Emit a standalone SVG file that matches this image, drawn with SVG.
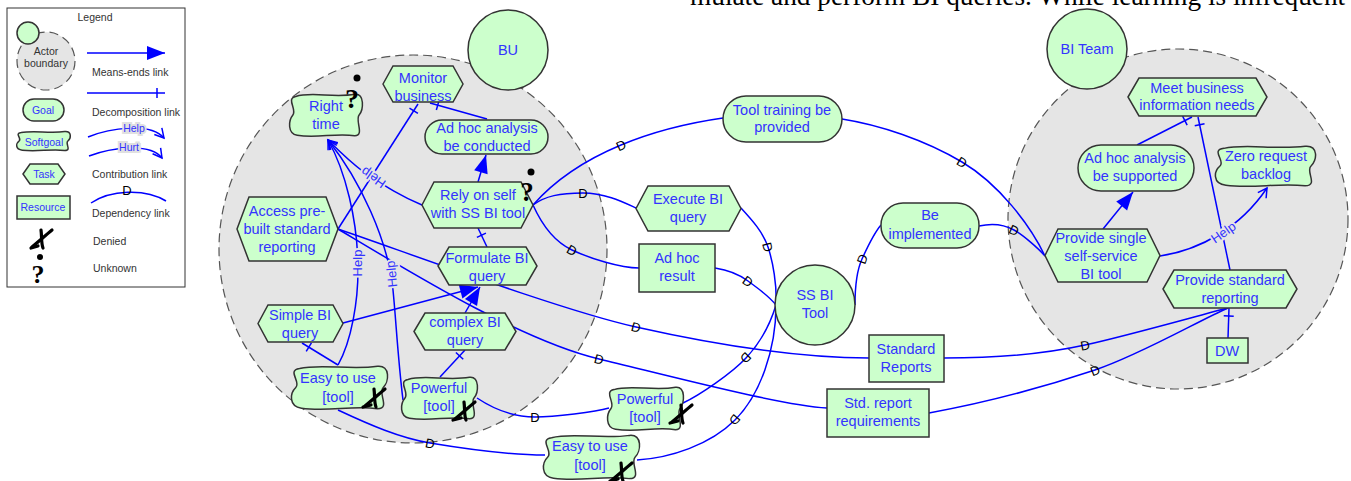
<svg xmlns="http://www.w3.org/2000/svg" xmlns:xlink="http://www.w3.org/1999/xlink" width="1351" height="481" viewBox="0 0 1351 481">
<style>
.n{fill:#ccffcc;stroke:#333;stroke-width:1.5}
.t{font-family:"Liberation Sans",Arial,sans-serif;font-size:14.5px;fill:#3333ff;text-anchor:middle}
.lt{font-family:"Liberation Sans",Arial,sans-serif;font-size:10.5px;fill:#333;}
.ltb{font-family:"Liberation Sans",Arial,sans-serif;font-size:10.5px;fill:#3333ff;text-anchor:middle}
.lk{fill:none;stroke:#0000ff;stroke-width:1.5}
.bd{fill:#e5e5e5;stroke:#555;stroke-width:1.2;stroke-dasharray:9 5}
.d{font-family:"Liberation Sans",Arial,sans-serif;font-size:13px;fill:#000;text-anchor:middle}
.hl{font-family:"Liberation Sans",Arial,sans-serif;font-size:13px;fill:#3333ff;text-anchor:middle;paint-order:stroke;stroke:#e5e5e5;stroke-width:4px}
.dn{fill:none;stroke:#000;stroke-width:3.2;stroke-linecap:round}
.q{font-family:"Liberation Serif","Times New Roman",serif;font-weight:bold;fill:#000;text-anchor:middle}
</style>
<defs>
<path id="sgp" d="M8,8 C30,-4 60,12 90,3 C104,0 102,38 96,50 C90,62 104,97 90,97 C62,90 38,104 10,96 C-4,92 -2,62 4,50 C10,38 -6,12 8,8 Z" vector-effect="non-scaling-stroke"/>
<marker id="me" markerUnits="userSpaceOnUse" markerWidth="20" markerHeight="16" refX="18" refY="7" orient="auto" overflow="visible"><path d="M0,0 L18,7 L0,14 Z" fill="#0000ff"/></marker>
<marker id="dc" markerUnits="userSpaceOnUse" markerWidth="20" markerHeight="20" refX="10" refY="10" orient="auto" overflow="visible"><path d="M2,5 L2,15" stroke="#0000ff" stroke-width="1.5"/></marker>
<marker id="hp" markerUnits="userSpaceOnUse" markerWidth="12" markerHeight="12" refX="10" refY="6" orient="auto" overflow="visible"><path d="M1,1 L10,6 L1,11" fill="none" stroke="#0000ff" stroke-width="1.5"/></marker>
</defs>
<rect width="1351" height="481" fill="#fff"/>
<text x="690" y="5" font-family="Liberation Serif,Times New Roman,serif" font-size="27.3" fill="#000">mulate and perform BI queries. While learning is infrequent</text>

<g id="legend">
<rect x="7" y="8" width="178" height="279" fill="#fff" stroke="#333" stroke-width="1"/>
<text class="lt" x="95" y="21" text-anchor="middle">Legend</text>
<circle class="bd" cx="46" cy="61" r="29"/>
<circle class="n" cx="28" cy="33" r="11"/>
<text class="lt" x="46" y="55" text-anchor="middle" font-size="10">Actor</text>
<text class="lt" x="46" y="67" text-anchor="middle" font-size="10">boundary</text>
<path class="lk" d="M87,53 L165,53" marker-end="url(#me)"/>
<text class="lt" x="92" y="76">Means-ends link</text>
<path class="lk" d="M87,93 L165,93" marker-end="url(#dc)"/>
<text class="lt" x="92" y="116">Decomposition link</text>
<rect class="n" x="23" y="99" width="41" height="22" rx="11"/>
<text class="ltb" x="43" y="114">Goal</text>
<use href="#sgp" class="n" transform="translate(17,131) scale(0.53,0.2)"/>
<text class="ltb" x="44" y="146">Softgoal</text>
<path class="lk" d="M88,137 C110,128 150,122 164,138" marker-end="url(#hp)"/>
<text class="ltb" x="134" y="132" font-size="9.5" style="paint-order:stroke;stroke:#e0e0e0;stroke-width:4px">Help</text>
<path class="lk" d="M89,156 C110,148 150,142 162,158" marker-end="url(#hp)"/>
<text class="ltb" x="129" y="151" font-size="9.5" style="paint-order:stroke;stroke:#e0e0e0;stroke-width:4px">Hurt</text>
<polygon class="n" points="23,174 30,164 58,164 65,174 58,184 30,184"/>
<text class="ltb" x="44" y="178">Task</text>
<text class="lt" x="92" y="178">Contribution link</text>
<rect class="n" x="17" y="196" width="53" height="23"/>
<text class="ltb" x="43" y="211">Resource</text>
<path class="lk" d="M91,203 C110,190 145,188 166,201"/>
<text class="d" x="127" y="195" font-size="10">D</text>
<text class="lt" x="92" y="217">Dependency link</text>
<g transform="translate(42,239)"><path class="dn" d="M-10,8 C-4,3 4,-4 10,-9"/><path class="dn" d="M-1,-9 C0,-2 -1,4 1,9"/><path class="dn" stroke-width="2" d="M-11,9 L-4,7"/></g>
<text class="lt" x="93" y="245">Denied</text>
<circle cx="40" cy="257" r="3" fill="#000"/>
<text class="q" x="38" y="283" font-size="26">?</text>
<text class="lt" x="93" y="272">Unknown</text>
</g>

<g id="boundaries">
<circle class="bd" cx="413" cy="249" r="194"/>
<circle class="bd" cx="1178" cy="219" r="170"/>
</g>

<g id="connectors">
<path class="lk" d="M487,119 L430,103" marker-end="url(#dc)"/>
<path class="lk" d="M338,229 L418,104" marker-end="url(#dc)"/>
<path class="lk" d="M478,182 L486,155" marker-end="url(#me)"/>
<path class="lk" d="M487,247 L478,228" marker-end="url(#dc)"/>
<path class="lk" d="M343,323 L478,287" marker-end="url(#me)"/>
<path class="lk" d="M465,313 L480,287" marker-end="url(#me)"/>
<path class="lk" d="M338,365 L302,343" marker-end="url(#dc)"/>
<path class="lk" d="M440,377 L465,350" marker-end="url(#dc)"/>
<path class="lk" d="M422,205 C400,196 385,186 365,173 C350,162 338,150 328,140" marker-end="url(#hp)"/>
<path class="lk" d="M338,365 C352,340 358,300 358,270 C358,220 345,170 328,140" marker-end="url(#hp)"/>
<path class="lk" d="M403,400 C398,360 396,320 393,290 C388,240 360,180 328,140" marker-end="url(#hp)"/>
<path class="lk" d="M533,205 C555,180 585,160 621,145 S695,122 723,118"/>
<path class="lk" d="M842,119 C880,125 925,140 962,162 S1030,225 1045,256"/>
<path class="lk" d="M533,205 C545,196 560,193 583,193 S625,203 636,208"/>
<path class="lk" d="M533,205 C542,225 555,242 572,250 S620,268 639,268"/>
<path class="lk" d="M741,208 C752,220 763,232 768,247 S777,285 776,305"/>
<path class="lk" d="M715,268 C728,270 740,275 748,281 S768,295 776,305"/>
<path class="lk" d="M855,305 C855,285 857,270 862,259 S874,233 881,225"/>
<path class="lk" d="M979,226 C992,223 1005,225 1014,230 S1038,248 1045,256"/>
<path class="lk" d="M338,229 C400,250 560,310 636,327 S800,358 869,358"/>
<path class="lk" d="M338,229 C410,272 520,340 599,359 S780,405 827,408"/>
<path class="lk" d="M944,358 C990,358 1040,355 1085,345 S1200,315 1228,308"/>
<path class="lk" d="M929,413 C990,402 1050,385 1095,370 S1200,320 1228,308"/>
<path class="lk" d="M477,398 C495,410 515,417 535,417 S595,412 609,408"/>
<path class="lk" d="M338,410 C370,425 400,438 430,443 S510,455 545,455"/>
<path class="lk" d="M776,305 C770,325 760,343 746,358 S700,395 683,403"/>
<path class="lk" d="M776,305 C776,350 760,395 735,420 S670,458 637,460"/>
<path class="lk" d="M1103,229 L1133,192" marker-end="url(#me)"/>
<path class="lk" d="M1137,145 L1192,117" marker-end="url(#dc)"/>
<path class="lk" d="M1230,270 L1198,117" marker-end="url(#dc)"/>
<path class="lk" d="M1160,256 C1200,250 1240,228 1267,188" marker-end="url(#hp)"/>
<path class="lk" d="M1228,338 L1229,308" marker-end="url(#dc)"/>
<text class="hl" transform="translate(373,178) rotate(215)" y="5">Help</text>
<text class="hl" transform="translate(357,263) rotate(-90)" y="5">Help</text>
<text class="hl" transform="translate(391,274) rotate(-96)" y="5">Help</text>
<text class="hl" transform="translate(1223,232) rotate(-35)" y="5">Help</text>
<text class="d" transform="translate(621,145) rotate(-25)" y="5">D</text>
<text class="d" transform="translate(962,162) rotate(32)" y="5">D</text>
<text class="d" transform="translate(583,193)" y="5">D</text>
<text class="d" transform="translate(572,250) rotate(30)" y="5">D</text>
<text class="d" transform="translate(768,247) rotate(75)" y="5">D</text>
<text class="d" transform="translate(748,281) rotate(35)" y="5">D</text>
<text class="d" transform="translate(862,259) rotate(-70)" y="5">D</text>
<text class="d" transform="translate(1014,230) rotate(25)" y="5">D</text>
<text class="d" transform="translate(636,327) rotate(15)" y="5">D</text>
<text class="d" transform="translate(599,359) rotate(15)" y="5">D</text>
<text class="d" transform="translate(1085,345) rotate(-10)" y="5">D</text>
<text class="d" transform="translate(1095,370) rotate(-22)" y="5">D</text>
<text class="d" transform="translate(535,417)" y="5">D</text>
<text class="d" transform="translate(430,443) rotate(12)" y="5">D</text>
<text class="d" transform="translate(746,358) rotate(135)" y="5">D</text>
<text class="d" transform="translate(735,420) rotate(130)" y="5">D</text>
</g>

<g id="BU"><circle class="n" cx="508" cy="50" r="40"/><text class="t" x="508" y="55">BU</text></g>
<g id="BITeam"><circle class="n" cx="1087" cy="49" r="40"/><text class="t" x="1087" y="54">BI Team</text></g>
<g id="SSBITool"><circle class="n" cx="815" cy="305" r="40"/><text class="t" x="815" y="300">SS BI</text><text class="t" x="815" y="318">Tool</text></g>

<g id="RightTime"><use href="#sgp" class="n" transform="translate(290,93) scale(0.72,0.44)"/><text class="t" x="326" y="111">Right</text><text class="t" x="326" y="129">time</text></g>
<g id="MonitorBusiness"><polygon class="n" points="383,84 393,66 453,66 463,84 453,102 393,102"/><text class="t" x="423" y="83">Monitor</text><text class="t" x="423" y="101">business</text></g>
<g id="AdHocConducted"><rect class="n" x="425" y="120" width="123" height="34" rx="17"/><text class="t" x="487" y="133">Ad hoc analysis</text><text class="t" x="487" y="151">be conducted</text></g>
<g id="RelyOnSelf"><polygon class="n" points="422,205 434,182 521,182 533,205 521,228 434,228"/><text class="t" x="478" y="200">Rely on self</text><text class="t" x="478" y="218">with SS BI tool</text></g>
<g id="AccessPrebuilt"><polygon class="n" points="237,229 249,197 326,197 338,229 326,261 249,261"/><text class="t" x="287" y="216">Access pre-</text><text class="t" x="287" y="234">built standard</text><text class="t" x="287" y="252">reporting</text></g>
<g id="FormulateQuery"><polygon class="n" points="438,266 449,247 526,247 537,266 526,285 449,285"/><text class="t" x="487" y="263">Formulate BI</text><text class="t" x="487" y="281">query</text></g>
<g id="SimpleQuery"><polygon class="n" points="258,323.5 268,305 333,305 343,323.5 333,342 268,342"/><text class="t" x="300" y="320">Simple BI</text><text class="t" x="300" y="338">query</text></g>
<g id="ComplexQuery"><polygon class="n" points="414,331.5 425,313 505,313 516,331.5 505,350 425,350"/><text class="t" x="465" y="327">complex BI</text><text class="t" x="465" y="345">query</text></g>
<g id="EasyBU"><use href="#sgp" class="n" transform="translate(292,365) scale(0.95,0.45)"/><text class="t" x="338" y="383">Easy to use</text><text class="t" x="338" y="402">[tool]</text></g>
<g id="PowerfulBU"><use href="#sgp" class="n" transform="translate(402,376) scale(0.75,0.44)"/><text class="t" x="439" y="393">Powerful</text><text class="t" x="439" y="411">[tool]</text></g>

<g id="ToolTraining"><rect class="n" x="723" y="96" width="119" height="46" rx="23"/><text class="t" x="782" y="115">Tool training be</text><text class="t" x="782" y="132">provided</text></g>
<g id="ExecuteQuery"><polygon class="n" points="636,208.5 648,186 729,186 741,208.5 729,231 648,231"/><text class="t" x="688" y="204">Execute BI</text><text class="t" x="688" y="222">query</text></g>
<g id="AdHocResult"><rect class="n" x="639" y="244" width="76" height="48"/><text class="t" x="677" y="263">Ad hoc</text><text class="t" x="677" y="281">result</text></g>
<g id="BeImplemented"><rect class="n" x="881" y="203" width="98" height="45" rx="22"/><text class="t" x="930" y="220">Be</text><text class="t" x="930" y="239">implemented</text></g>
<g id="StandardReports"><rect class="n" x="869" y="335" width="75" height="47"/><text class="t" x="906" y="354">Standard</text><text class="t" x="906" y="372">Reports</text></g>
<g id="StdReportReq"><rect class="n" x="827" y="389" width="102" height="48"/><text class="t" x="878" y="408">Std. report</text><text class="t" x="878" y="426">requirements</text></g>
<g id="PowerfulOut"><use href="#sgp" class="n" transform="translate(608,386) scale(0.75,0.45)"/><text class="t" x="645" y="404">Powerful</text><text class="t" x="645" y="422">[tool]</text></g>
<g id="EasyOut"><use href="#sgp" class="n" transform="translate(544,434) scale(0.95,0.46)"/><text class="t" x="590" y="451">Easy to use</text><text class="t" x="590" y="470">[tool]</text></g>

<g id="MeetNeeds"><polygon class="n" points="1128,97 1139,78 1256,78 1267,97 1256,116 1139,116"/><text class="t" x="1197" y="93">Meet business</text><text class="t" x="1197" y="110">information needs</text></g>
<g id="AdHocSupported"><rect class="n" x="1078" y="145" width="116" height="46" rx="23"/><text class="t" x="1135" y="163">Ad hoc analysis</text><text class="t" x="1135" y="181">be supported</text></g>
<g id="ZeroBacklog"><use href="#sgp" class="n" transform="translate(1216,145) scale(0.99,0.42)"/><text class="t" x="1266" y="161">Zero request</text><text class="t" x="1266" y="179">backlog</text></g>
<g id="ProvideSingle"><polygon class="n" points="1045,255.5 1058,229 1147,229 1160,255.5 1147,282 1058,282"/><text class="t" x="1101" y="243">Provide single</text><text class="t" x="1101" y="261">self-service</text><text class="t" x="1101" y="279">BI tool</text></g>
<g id="ProvideStd"><polygon class="n" points="1163,289 1174,270 1286,270 1297,289 1286,308 1174,308"/><text class="t" x="1230" y="285">Provide standard</text><text class="t" x="1230" y="303">reporting</text></g>
<g id="DW"><rect class="n" x="1207" y="338" width="41" height="25"/><text class="t" x="1227" y="356">DW</text></g>

<g id="marks">
<circle cx="357" cy="78" r="3.5" fill="#000"/><text class="q" x="352" y="108" font-size="28">?</text>
<circle cx="531" cy="172" r="3.5" fill="#000"/><text class="q" x="527" y="201" font-size="27">?</text>
<g transform="translate(375,398)"><path class="dn" d="M-10,8 C-4,3 4,-4 10,-9"/><path class="dn" d="M-1,-9 C0,-2 -1,4 1,9"/><path class="dn" stroke-width="2" d="M-12,9 L-4,7"/></g>
<g transform="translate(465,411)"><path class="dn" d="M-10,8 C-4,3 4,-4 10,-9"/><path class="dn" d="M-1,-9 C0,-2 -1,4 1,9"/><path class="dn" stroke-width="2" d="M-12,9 L-4,7"/></g>
<g transform="translate(682,414)"><path class="dn" d="M-10,8 C-4,3 4,-4 10,-9"/><path class="dn" d="M-1,-9 C0,-2 -1,4 1,9"/><path class="dn" stroke-width="2" d="M-12,9 L-4,7"/></g>
<g transform="translate(622,472)"><path class="dn" d="M-10,8 C-4,3 4,-4 10,-9"/><path class="dn" d="M-1,-9 C0,-2 -1,4 1,9"/><path class="dn" stroke-width="2" d="M-12,9 L-4,7"/></g>
</g>
</svg>
